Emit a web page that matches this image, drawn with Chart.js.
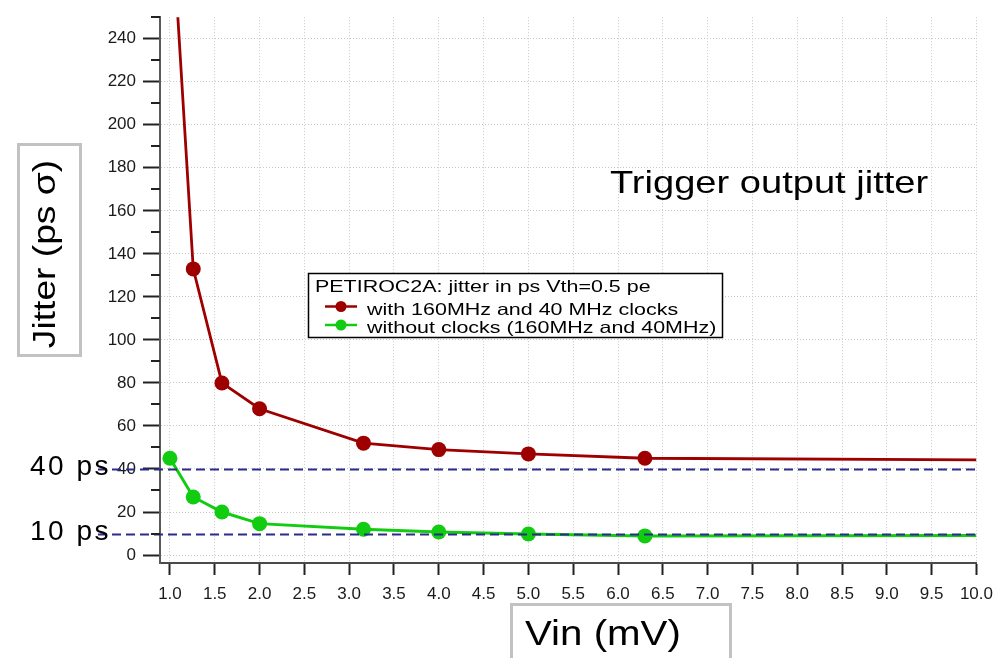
<!DOCTYPE html>
<html>
<head>
<meta charset="utf-8">
<title>PETIROC2A trigger output jitter</title>
<script src="https://cdn.jsdelivr.net/npm/chart.js@4.4.0/dist/chart.umd.min.js"></script>
<style>
  html, body { margin: 0; padding: 0; background: #fff; }
  canvas { display: block; }
</style>
</head>
<body>
<canvas id="jitter-canvas" width="1002" height="658"></canvas>
<script>
// input amplitude (mV) and measured jitter (ps sigma)
const vinWithClocks = [1.0, 1.26, 1.58, 2.0, 3.16, 4.0, 5.0, 6.3, 10.0];
const jitterWithClocks = [310, 133, 80, 68, 52, 49, 47, 45, 44.2];
const vinNoClocks = [1.0, 1.26, 1.58, 2.0, 3.16, 4.0, 5.0, 6.3, 10.0];
const jitterNoClocks = [45, 27, 20, 14.6, 12, 10.7, 9.8, 8.9, 9.1];

const seriesNames = ['with 160MHz and 40 MHz clocks', 'without clocks (160MHz and 40MHz)'];
const legendTitle = 'PETIROC2A: jitter in ps Vth=0.5 pe';

// dashed reference levels
const refLevels = [40, 10];
const refLabels = ['40 ps', '10 ps'];

const xTicks = [1.0, 1.5, 2.0, 2.5, 3.0, 3.5, 4.0, 4.5, 5.0, 5.5, 6.0, 6.5, 7.0, 7.5, 8.0, 8.5, 9.0, 9.5, 10.0];
const yMajorTicks = [0, 20, 40, 60, 80, 100, 120, 140, 160, 180, 200, 220, 240];
const yMinorTicks = [10, 30, 50, 70, 90, 110, 130, 150, 170, 190, 210, 230, 250];

const FONT = '"Liberation Sans", Arial, sans-serif';
const RED = '#9e0000';
const GREEN = '#12cc12';

const toPoints = (xs, ys) => xs.map((x, i) => ({ x: x, y: ys[i] }));
// the last sample only continues the line, no marker
const markerRadius = ctx => ctx.dataIndex === ctx.dataset.data.length - 1 ? 0 : 7.5;

// wide lettering: glyphs stretched along the reading direction by sx,
// or spaced out with letterSpacing
function text(ctx, str, x, y, size, opts = {}) {
    ctx.save();
    ctx.font = `${size}px ${FONT}`;
    if (opts.spacing) ctx.letterSpacing = opts.spacing;
    ctx.fillStyle = opts.color || '#000';
    ctx.textAlign = opts.align || 'left';
    ctx.textBaseline = 'alphabetic';
    ctx.translate(x, y);
    if (opts.rotate) ctx.rotate(opts.rotate);
    ctx.scale(opts.sx || 1, 1);
    ctx.fillText(str, 0, 0);
    ctx.restore();
}

const decorations = {
    id: 'decorations',
    afterDatasetsDraw(chart) {
        const { ctx, chartArea, scales: { y } } = chart;
        ctx.save();
        ctx.strokeStyle = '#2b2b8c';
        ctx.lineWidth = 2;
        ctx.setLineDash([9, 5]);
        refLevels.forEach(v => {
            const py = Math.round(y.getPixelForValue(v)) + 0.5;
            ctx.beginPath();
            ctx.moveTo(98, py);
            ctx.lineTo(chartArea.right, py);
            ctx.stroke();
        });
        ctx.restore();

        refLevels.forEach((v, i) => {
            text(ctx, refLabels[i], 111, y.getPixelForValue(v) + 6, 28, { align: 'right', spacing: '2.5px' });
        });
    },
    afterDraw(chart) {
        const { ctx, chartArea, scales: { y } } = chart;

        // short unlabeled ticks on the y axis
        ctx.save();
        ctx.strokeStyle = '#222';
        ctx.lineWidth = 2;
        yMinorTicks.forEach(v => {
            const py = Math.round(y.getPixelForValue(v));
            ctx.beginPath();
            ctx.moveTo(chartArea.left - 9, py);
            ctx.lineTo(chartArea.left, py);
            ctx.stroke();
        });
        ctx.restore();

        // legend
        ctx.save();
        ctx.fillStyle = '#fff';
        ctx.fillRect(308, 273, 415, 65);
        ctx.strokeStyle = '#000';
        ctx.lineWidth = 1.5;
        ctx.strokeRect(308.5, 273.5, 414, 64);
        ctx.restore();
        text(ctx, legendTitle, 315, 292, 16.5, { sx: 1.3 });
        chart.data.datasets.slice(0, 2).forEach((ds, i) => {
            const sy = 306.5 + i * 18.5;
            ctx.save();
            ctx.strokeStyle = ds.borderColor;
            ctx.fillStyle = ds.backgroundColor;
            ctx.lineWidth = 2.5;
            ctx.beginPath();
            ctx.moveTo(325, sy);
            ctx.lineTo(357, sy);
            ctx.stroke();
            ctx.beginPath();
            ctx.arc(341, sy, 5.5, 0, Math.PI * 2);
            ctx.fill();
            ctx.restore();
            text(ctx, ds.label, 367, sy + 8.3, 16.5, { sx: 1.3 });
        });

        text(ctx, 'Trigger output jitter', 610, 193, 32, { sx: 1.19 });

        // boxed axis titles
        ctx.save();
        ctx.strokeStyle = '#c2c2c2';
        ctx.lineWidth = 3;
        ctx.strokeRect(18.5, 144.5, 62, 211);
        ctx.strokeRect(511.5, 604.5, 219, 80);
        ctx.restore();
        text(ctx, 'Jitter (ps \u03c3)', 55, 254, 31, { align: 'center', sx: 1.2, rotate: -Math.PI / 2 });
        text(ctx, 'Vin (mV)', 525, 645, 35, { sx: 1.15 });
    }
};

const ctx = document.getElementById('jitter-canvas').getContext('2d');
const jitterChart = new Chart(ctx, {
    type: 'line',
    data: {
        datasets: [{
            label: seriesNames[0],
            data: toPoints(vinWithClocks, jitterWithClocks),
            borderColor: RED,
            backgroundColor: RED,
            borderWidth: 2.8,
            pointRadius: markerRadius,
            pointBorderWidth: 0,
            tension: 0
        }, {
            label: seriesNames[1],
            data: toPoints(vinNoClocks, jitterNoClocks),
            borderColor: GREEN,
            backgroundColor: GREEN,
            borderWidth: 3,
            pointRadius: markerRadius,
            pointBorderWidth: 0,
            tension: 0
        }]
    },
    options: {
        responsive: false,
        animation: false,
        layout: {
            padding: { top: 13, right: 22, left: 0, bottom: 0 }
        },
        plugins: {
            legend: { display: false },
            tooltip: { enabled: false }
        },
        scales: {
            x: {
                type: 'linear',
                min: 0.889,
                max: 10.0,
                afterBuildTicks: scale => { scale.ticks = xTicks.map(v => ({ value: v })); },
                afterFit: scale => { scale.height = 95; },
                grid: {
                    color: '#c8c8c8',
                    lineWidth: 1,
                    tickLength: 12,
                    tickColor: '#222',
                    tickWidth: 2
                },
                border: { display: true, color: '#4a4a4a', width: 2, dash: [1, 2] },
                ticks: {
                    autoSkip: false,
                    maxRotation: 0,
                    padding: 9,
                    color: '#1a1a1a',
                    font: { family: FONT, size: 17 },
                    callback: v => v.toFixed(1)
                }
            },
            y: {
                min: -3.7,
                max: 250,
                afterBuildTicks: scale => { scale.ticks = yMajorTicks.map(v => ({ value: v })); },
                afterFit: scale => { scale.width = 160; },
                grid: {
                    color: '#c8c8c8',
                    lineWidth: 1,
                    tickLength: 17,
                    tickColor: '#222',
                    tickWidth: 2
                },
                border: { display: true, color: '#5a5a5a', width: 2, dash: [1, 2] },
                ticks: {
                    autoSkip: false,
                    padding: 7,
                    color: '#1a1a1a',
                    font: { family: FONT, size: 17 },
                    callback: v => String(v)
                }
            }
        }
    },
    plugins: [decorations]
});
</script>
</body>
</html>
